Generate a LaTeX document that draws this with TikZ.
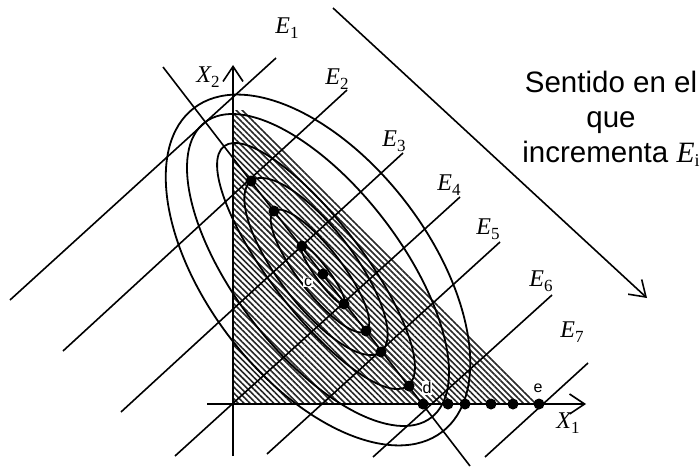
\documentclass[tikz,border=0pt]{standalone}
\usepackage{fontspec}
\setmainfont{Liberation Serif}
\newfontfamily\arialfont{Liberation Sans}
\usetikzlibrary{arrows.meta,patterns.meta}
\newcommand{\Elab}[1]{{\fontsize{24}{24}\selectfont\itshape E}\raisebox{-4.5pt}{\fontsize{17}{17}\selectfont #1}}
\newcommand{\Xlab}[1]{{\fontsize{24}{24}\selectfont\itshape X}\raisebox{-4.5pt}{\fontsize{17}{17}\selectfont #1}}
\begin{document}
\begin{tikzpicture}[x=1pt,y=-1pt,line width=1.6pt,
  barb/.style={-{Straight Barb[length=15pt,width=20pt,line width=1.6pt]}},
  axisline/.style={line width=2.2pt},
  eline/.style={line width=1.6pt},
  ell/.style={line width=1.8pt},
  ptdot/.style={circle,fill=black,inner sep=0pt,minimum size=11pt},
  smalllab/.style={font=\arialfont\fontsize{16}{16}\selectfont,fill=white,inner sep=1pt},
  elab/.style={inner sep=0pt}]
\useasboundingbox (0,0) rectangle (700,468);

% feasible region
\fill[pattern={Lines[angle=-45,distance=4.2pt,line width=1.6pt]},pattern color=black!85]
  (233,404) -- (233,110) -- (243,110) -- (540,404) -- cycle;

% ellipses
\draw[ell,rotate around={-52.5:(318,270)}] (318,270) ellipse [x radius=204,y radius=111];
\draw[ell,rotate around={-52.5:(318,270)}] (318,270) ellipse [x radius=186,y radius=83];
\draw[ell,rotate around={-52.5:(316,266)}] (316,266) ellipse [x radius=151,y radius=46];
\draw[ell,rotate around={-52.8:(316,266.5)}] (316,266.5) ellipse [x radius=107.4,y radius=38];
\draw[ell,rotate around={-52.5:(320,271)}] (320,271) ellipse [x radius=75.6,y radius=22];
\draw[ell,rotate around={-54:(323,275)}] (323,275) ellipse [x radius=36,y radius=7];

% iso-lines E_i
\coordinate (e1a) at (10,300);  \coordinate (e1b) at (276,58);
\coordinate (e2a) at (63,351);  \coordinate (e2b) at (347,90);
\coordinate (e3a) at (121,412); \coordinate (e3b) at (403,153);
\coordinate (e4a) at (175,456); \coordinate (e4b) at (460,197);
\coordinate (e5a) at (267,454); \coordinate (e5b) at (500,242);
\coordinate (e6a) at (373,457); \coordinate (e6b) at (552,295);
\coordinate (e7a) at (485,457); \coordinate (e7b) at (588,363);
\foreach \i in {1,...,7} {\draw[eline] (e\i a) -- (e\i b);}

% line of optima
\coordinate (la) at (163,67); \coordinate (lb) at (470,466);
\draw[eline] (la) -- (lb);

% axes
\coordinate (o) at (233,404);
\coordinate (yb) at (233,456); \coordinate (yt) at (233,65);
\coordinate (xl) at (207,404); \coordinate (xr) at (586,404);
\draw[axisline,barb] (yb) -- (yt);
\draw[axisline,barb] (xl) -- (xr);

% direction arrow
\coordinate (da) at (333,8); \coordinate (db) at (647,298);
\draw[line width=1.6pt,barb] (da) -- (db);

% points
\foreach \p/\q [count=\k] in {251/181,274/211,302/246,323/274,344/304,366/331,381/352,409/386,423/404,448/404,465/404,491/404,513/404,539/404}
  {\node[ptdot] (p\k) at (\p,\q) {};}

% small labels
\node[smalllab] (lc) at (308,282) {c};
\node[smalllab] (ld) at (427,388) {d};
\node[smalllab] (le) at (538,388) {e};

% E labels
\node[elab] (lE1) at (287,28) {\Elab{1}};
\node[elab] (lE2) at (337,79) {\Elab{2}};
\node[elab] (lE3) at (394,141) {\Elab{3}};
\node[elab] (lE4) at (449,185) {\Elab{4}};
\node[elab] (lE5) at (488,229) {\Elab{5}};
\node[elab] (lE6) at (541,281) {\Elab{6}};
\node[elab] (lE7) at (572,332) {\Elab{7}};
\node[elab] (lX2) at (208,77) {\Xlab{2}};
\node[elab] (lX1) at (568,423) {\Xlab{1}};

% text
\node[align=center,inner sep=0pt,font=\arialfont\fontsize{29.5}{35}\selectfont] (txt) at (611,119)
  {Sentido en el\\que\\incrementa {\rmfamily\itshape E}\raisebox{-4pt}{\rmfamily\fontsize{18}{18}\selectfont i}};
\end{tikzpicture}
\end{document}
